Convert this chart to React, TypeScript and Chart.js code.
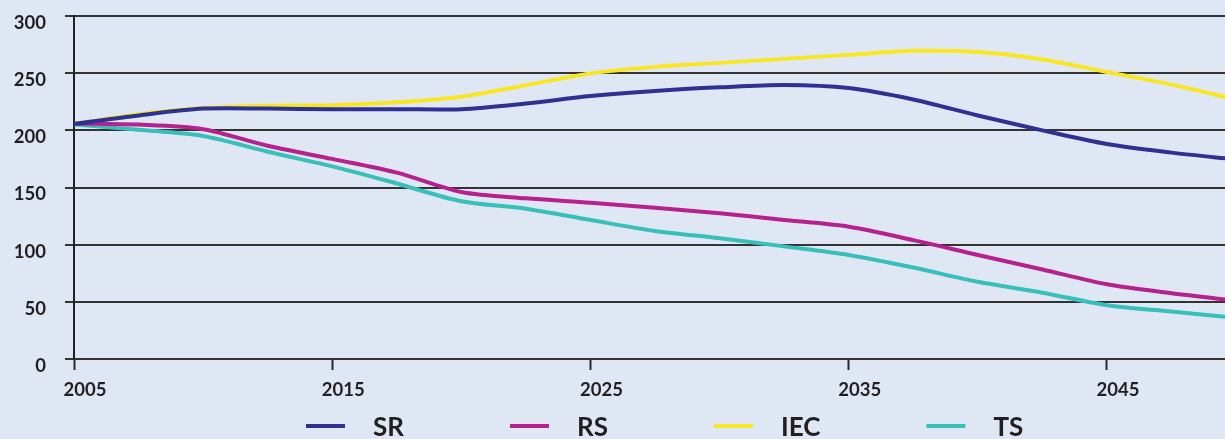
import React, { useEffect, useRef } from "react";
import { Chart, registerables } from "chart.js";

Chart.register(...registerables);

const years = [2005, 2007.5, 2010, 2012.5, 2015, 2017.5, 2020, 2022.5, 2025, 2027.5, 2030, 2032.5, 2035, 2037.5, 2040, 2042.5, 2045, 2047.5, 2050];
const srValues = [205.5, 213, 219, 219, 218.5, 218.5, 218.5, 223.5, 230, 234.5, 237.6, 239.7, 237, 227, 213, 200, 188, 180.5, 174.5];
const rsValues = [206, 205, 201, 186.5, 175, 163, 146, 140.5, 136.7, 132.3, 127.4, 121.6, 115.7, 104, 91, 78.3, 65.3, 57.5, 51];
const iecValues = [205.5, 214, 219.5, 221.6, 222, 224.5, 229.4, 239.5, 249.8, 255.5, 259, 262.5, 266, 269.5, 268.5, 262, 251, 240, 227];
const tsValues = [205, 200.5, 195, 181.3, 168.5, 153.5, 138, 131.5, 121.6, 112, 105.6, 98.5, 91, 80, 67.5, 58, 47, 41.5, 36];

const seriesLabels = ["SR", "RS", "IEC", "TS"];
const seriesColors = ["#2e3192", "#b5218d", "#f9e622", "#38bfba"];
const seriesValues = [srValues, rsValues, iecValues, tsValues];

const xTickYears = [2005, 2015, 2025, 2035, 2045];
const yMin = 0;
const yMax = 300;
const yStep = 50;

const BG = "#e0e7f4";
const TEXT = "#231f20";
const FONT = "Lato, 'Open Sans', sans-serif";

const bottomLegend = {
  id: "bottomLegend",
  afterDraw(chart: any) {
    const ctx = chart.ctx;
    const lineW = 39;
    const gapText = 28;
    const gapItem = 106;
    const lineY = 426;
    const textY = 436;
    let x = 306;
    ctx.save();
    ctx.font = `bold 26px ${FONT}`;
    ctx.textBaseline = "alphabetic";
    ctx.textAlign = "left";
    chart.data.datasets.forEach((ds: any) => {
      ctx.strokeStyle = ds.borderColor;
      ctx.lineWidth = 4;
      ctx.beginPath();
      ctx.moveTo(x, lineY);
      ctx.lineTo(x + lineW, lineY);
      ctx.stroke();
      ctx.fillStyle = TEXT;
      const tx = x + lineW + gapText;
      ctx.fillText(ds.label, tx, textY);
      const w = ctx.measureText(ds.label).width;
      x = tx + w + gapItem;
    });
    ctx.restore();
  },
};

export default function App() {
  const ref = useRef<HTMLCanvasElement | null>(null);

  useEffect(() => {
    if (!ref.current) return;
    const chart = new Chart(ref.current, {
      type: "line",
      data: {
        datasets: seriesLabels.map((label, k) => ({
          label,
          data: years.map((x, i) => ({ x, y: seriesValues[k][i] })),
          borderColor: seriesColors[k],
          backgroundColor: seriesColors[k],
          borderWidth: 4,
          pointRadius: 0,
          tension: 0.3,
          fill: false,
        })),
      },
      options: {
        responsive: false,
        animation: false,
        layout: { padding: { left: 0, right: 0, top: 16, bottom: 38 } },
        plugins: {
          legend: { display: false },
          tooltip: { enabled: false },
        },
        scales: {
          x: {
            type: "linear",
            min: 2005,
            max: 2049.57,
            afterBuildTicks: (s: any) => {
              s.ticks = xTickYears.map((v) => ({ value: v }));
            },
            afterFit: (s: any) => {
              s.height = 42;
              s.paddingLeft = 0;
              s.paddingRight = 0;
              s.paddingTop = 0;
              s.paddingBottom = 0;
            },
            grid: {
              drawOnChartArea: false,
              drawTicks: true,
              tickLength: 11,
              tickColor: "#2a2a2a",
              tickWidth: 2,
            },
            border: { display: false },
            ticks: {
              padding: 9,
              labelOffset: 11,
              autoSkip: false,
              maxRotation: 0,
              color: TEXT,
              font: { family: FONT, size: 18.5, weight: "bold" },
              callback: (v: any) => String(v),
            },
          },
          y: {
            min: yMin,
            max: yMax,
            afterFit: (s: any) => {
              s.width = 74;
              s.paddingTop = 0;
              s.paddingBottom = 0;
              s.paddingLeft = 0;
              s.paddingRight = 0;
            },
            grid: {
              color: "#333333",
              lineWidth: 2,
              drawTicks: true,
              tickLength: 9,
              tickColor: "#333333",
            },
            border: { display: true, color: "#222222", width: 2 },
            ticks: {
              stepSize: yStep,
              padding: 19,
              labelOffset: 7,
              color: TEXT,
              font: { family: FONT, size: 18.5, weight: "bold" },
              callback: (v: any) => String(v),
            },
          },
        },
      },
      plugins: [bottomLegend],
    });
    return () => chart.destroy();
  }, []);

  return (
    <div style={{ position: "fixed", left: 0, top: 0, width: 1225, height: 439, background: BG, overflow: "hidden" }}>
      <canvas ref={ref} width={1225} height={439} style={{ display: "block" }} />
    </div>
  );
}
